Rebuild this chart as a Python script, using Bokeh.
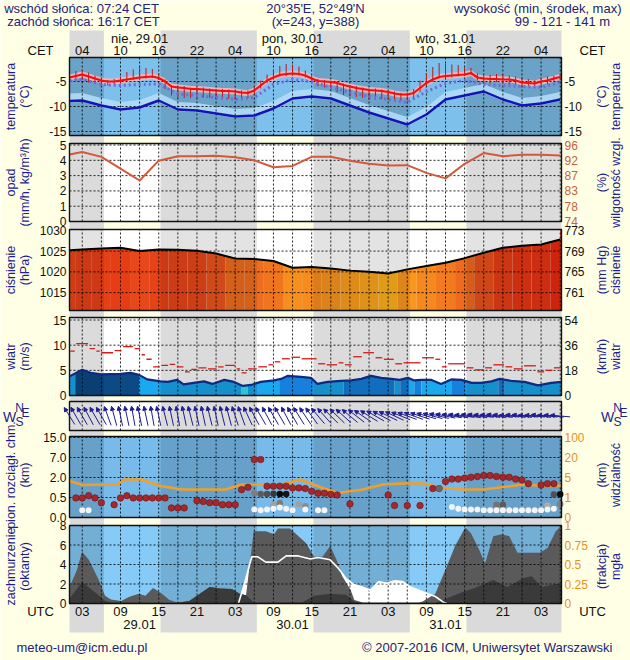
import numpy as np
from bokeh.plotting import figure
from bokeh.models import Range1d, ColumnDataSource, Arrow, NormalHead
from bokeh.core.properties import value
from bokeh.embed import file_html
from bokeh.resources import INLINE

# ------------------------------------------------------------------ data
header_left = ["wschód słońca: 07:24 CET", "zachód słońca: 16:17 CET"]
header_mid = ["20°35'E, 52°49'N", "(x=243, y=388)"]
header_right = ["wysokość (min, środek, max)", "99 - 121 - 141 m"]
sunrise_cet = "07:24"
sunset_cet = "16:17"
day_names = ["nie, 29.01", "pon, 30.01", "wto, 31.01"]
day_dates = ["29.01", "30.01", "31.01"]
day_centers = [12, 36, 60]                # UTC hours from 29.01 00 UTC
label_hours = [3, 9, 15, 21, 27, 33, 39, 45, 51, 57, 63, 69, 75]
cet_labels = ["04", "10", "16", "22", "04", "10", "16", "22", "04", "10", "16", "22", "04"]
utc_labels = ["03", "09", "15", "21", "03", "09", "15", "21", "03", "09", "15", "21", "03"]
grid_hours = [3, 6, 9, 12, 15, 18, 21, 24, 27, 30, 33, 36, 39, 42, 45, 48, 51, 54,
              57, 60, 63, 66, 69, 72, 75, 78]
footer_left = "meteo-um@icm.edu.pl"
footer_right = "© 2007-2016 ICM, Uniwersytet Warszawski"
left_titles = ["temperatura", "opad", "ciśnienie", "wiatr", "pion. rozciągł. chm.", "zachmurzenie"]
left_units = ["(°C)", "(mm/h, kg/m³/h)", "(hPa)", "(m/s)", "(km)", "(oktanty)"]
right_titles = ["temperatura", "wilgotność wzgl.", "ciśnienie", "wiatr", "widzialność", "mgła"]
right_units = ["(°C)", "(%)", "(mm Hg)", "(km/h)", "(km)", "(frakcja)"]

X_START, X_END = 1.0, 78.2

# hourly temperature (°C) and spread bars
hours = list(range(1, 79))
t2m = [-4.2, -3.9, -3.6, -4.0, -4.4, -4.8, -5.0, -5.0, -4.8, -4.6,
       -4.4, -4.2, -4.1, -4.0, -4.3, -5.0, -6.0, -6.2, -6.3, -6.5,
       -6.5, -6.6, -6.7, -6.8, -6.9, -6.9, -7.0, -7.2, -7.3, -6.8,
       -5.8, -4.8, -4.2, -3.7, -3.5, -3.4, -3.5, -3.8, -4.4, -4.9,
       -5.0, -5.1, -5.3, -5.7, -6.0, -6.3, -6.5, -6.7, -6.8, -6.9,
       -7.1, -7.4, -7.6, -7.6, -7.3, -6.3, -5.3, -4.6, -4.1, -3.9,
       -3.8, -3.7, -3.6, -3.3, -4.2, -4.4, -4.5, -4.5, -4.6, -4.6,
       -4.8, -5.2, -5.3, -5.4, -5.0, -4.8, -4.4, -4.1]
t_up = [1.0, 1.0, 0.8, 0.8, 0.6, 0.3, 0.3, 0.5, 0.8, 1.5, 1.8, 2.0, 1.8, 1.5, 1.0,
        0.4, 0.3, 0.3, 0.4, 0.3, 0.3, 0.4, 0.3, 0.3, 0.4, 0.3, 0.3, 0.4,
        0.5, 0.8, 1.0, 1.2, 1.5, 1.8, 2.0, 1.8, 1.5, 1.0, 0.6,
        0.4, 0.3, 0.3, 0.4, 0.3, 0.3, 0.4, 0.3, 0.3, 0.4, 0.3, 0.3, 0.4, 0.3, 0.4,
        0.8, 1.5, 2.0, 2.5, 2.8, 2.5, 2.2, 2.0, 1.5, 1.0, 0.8,
        0.6, 0.8, 1.0, 1.0, 0.8, 0.8, 1.0, 0.8, 0.6, 0.6, 0.8, 0.6, 0.5]
t_dn = [0.8, 1.0, 1.0, 1.2, 1.0, 0.8, 0.8, 0.6, 0.5, 0.3, 0.3, 0.4, 0.3, 0.3, 0.4,
        1.5, 1.8, 2.0, 2.0, 1.8, 1.8, 1.6, 1.6, 1.8, 1.6, 1.6, 1.5, 1.2,
        1.0, 0.8, 0.6, 0.5, 0.3, 0.3, 0.4, 0.3, 0.3, 0.4, 0.5,
        1.0, 1.2, 1.5, 1.8, 2.0, 2.0, 1.8, 1.8, 2.0, 1.8, 1.6, 1.6, 1.5, 1.4, 1.2,
        1.0, 0.8, 0.6, 0.5, 0.3, 0.3, 0.4, 0.3, 0.3, 0.4, 0.6,
        0.8, 0.8, 0.6, 0.8, 1.0, 0.8, 0.8, 0.6, 0.6, 0.8, 0.8, 0.6, 0.6]

# 3-hourly series
h3 = [1, 3, 6, 9, 12, 15, 18, 21, 24, 27, 30, 33, 36, 39, 42, 45, 48, 51, 54, 57,
      60, 63, 66, 69, 72, 75, 78]
dew_point = [-8.9, -8.8, -9.8, -10.6, -10.2, -8.8, -10.6, -10.8, -11.4, -12.0, -11.8,
             -10.4, -8.4, -8.0, -8.4, -9.8, -11.2, -12.4, -13.6, -11.6, -8.6, -7.8,
             -7.0, -8.6, -9.8, -9.4, -8.6]
t_felt = [-4.8, -4.6, -5.6, -5.8, -5.6, -5.5, -7.5, -7.8, -8.2, -8.6, -8.2, -5.6, -4.6,
          -5.0, -6.2, -7.2, -8.0, -8.6, -9.2, -7.0, -5.4, -4.8, -5.6, -5.8, -6.0, -6.2, -5.2]
humidity = [93.3, 94.0, 92.6, 89.2, 85.8, 91.5, 92.8, 92.8, 92.9, 92.5, 91.6, 89.6, 90.0,
            92.6, 92.6, 91.5, 90.6, 90.1, 90.2, 88.0, 86.4, 90.6, 93.7, 92.8, 93.2, 93.2, 93.0]
pressure = [1025.2, 1025.4, 1025.6, 1025.8, 1025.0, 1025.4, 1025.3, 1025.1, 1024.4,
            1023.2, 1023.1, 1022.6, 1021.0, 1021.2, 1020.8, 1020.3, 1020.0, 1019.6,
            1020.6, 1021.4, 1022.2, 1023.3, 1024.6, 1025.8, 1026.3, 1026.6, 1027.8]
precip_ticks = [0, 1, 2, 3, 4, 5]
rh_tick_labels = ["74", "78", "83", "87", "92", "96"]
temp_ticks = [-15, -10, -5]
pres_ticks = [1015, 1020, 1025, 1030]
wind_ticks = [0, 5, 10, 15]
cc_ticks = [0, 2, 4, 6, 8]

# wind speed (m/s)
wind_h = [1.0, 3.0, 4.3, 5.9, 9.0, 10.6, 11.9, 13.2, 15.3, 16.4, 17.9, 18.9, 20.5, 22.1,
          23.4, 25.3, 26.8, 28.2, 29.5, 31.0, 33.1, 34.2, 35.2, 37.3, 38.9, 39.9, 41.5,
          43.6, 45.2, 46.8, 48.3, 49.9, 51.5, 52.8, 54.1, 55.1, 56.2, 57.8, 59.3, 60.9,
          62.5, 64.1, 65.6, 67.2, 68.5, 70.3, 72.4, 74.5, 76.6, 78.2]
wind_ms = [3.8, 5.1, 4.5, 4.2, 4.3, 4.5, 4.1, 3.2, 2.8, 2.7, 3.1, 2.2, 2.5, 2.8, 2.3,
           3.1, 2.7, 1.9, 2.1, 2.7, 3.0, 3.3, 3.9, 3.7, 3.5, 2.3, 2.7, 2.9, 3.0, 3.3,
           3.9, 3.5, 3.3, 3.1, 3.5, 3.0, 3.1, 3.1, 2.3, 3.2, 3.1, 2.5, 2.5, 2.8, 3.3,
           2.9, 2.7, 2.0, 2.5, 2.7]
wseg_start = [1.0, 1.9, 12.0, 28.0, 29.0, 33.9, 39.2, 44.0, 52.0, 52.9, 54.3, 55.1,
              56.2, 60.9, 63.2, 68.3, 69.3]
wseg_end = [1.9, 12.0, 28.0, 29.0, 33.9, 39.2, 44.0, 52.0, 52.9, 54.3, 55.1, 56.2,
            60.9, 63.2, 68.3, 69.3, 78.2]
wseg_class = ["light", "dark", "light", "cyan", "light", "medium", "light", "medium",
              "light", "medium", "light", "medium", "light", "medium", "light", "medium",
              "light"]
gust_start = [1.0, 1.94, 4.04, 5.09, 5.87, 7.97, 9.28, 11.1, 12.2, 12.95, 14.0, 15.3,
              16.6, 17.7, 19.0, 20.0, 21.1, 22.6, 24.2, 25.3, 27.1, 27.9, 28.9, 30.5,
              32.1, 33.1, 34.2, 35.7, 37.3, 39.9, 41.25, 43.1, 44.1, 45.4, 46.97, 48.9,
              50.2, 52.0, 53.3, 56.2, 58.3, 59.3, 60.3, 63.2, 64.5, 66.1, 67.4, 69.3,
              70.6, 72.2, 74.3, 75.6, 76.9]
gust_ms = [8.8, 10.3, 9.3, 8.8, 8.5, 8.9, 9.7, 9.3, 8.1, 7.2, 5.7, 6.0, 6.2, 5.7, 4.7,
           5.2, 5.5, 5.3, 5.7, 6.0, 5.3, 4.5, 5.3, 5.7, 6.1, 6.7, 7.3, 7.6, 7.3, 6.3,
           6.1, 6.5, 6.1, 7.7, 8.5, 7.5, 7.2, 6.3, 6.5, 7.5, 7.2, 5.7, 6.3, 5.5, 5.1,
           5.5, 6.1, 5.7, 5.3, 5.9, 4.7, 5.0, 5.5]

# hourly wind direction (deg, meteorological "from")
wind_dir = [148, 150, 150, 152, 150, 150,
            160, 165, 168, 168, 170, 168, 168, 170, 168, 166, 168, 170, 168, 166, 168,
            168, 166, 168, 166, 165, 162, 160,
            155, 152, 150, 152, 150, 150, 152, 150, 148, 146, 144, 140,
            138, 135, 134, 132, 130, 128,
            124, 122, 120, 118, 116, 115,
            112, 110, 110, 108, 106, 105,
            104, 102, 100, 100, 98, 100, 100, 98, 98, 100, 98, 96, 98, 98, 96, 96, 98,
            96, 96, 95]

# cloud vertical extent (km) and visibility (km)
hgt_ticks_km = [0.0, 0.5, 2.0, 7.0, 15.0]
hgt_tick_labels = ["0.0", "0.5", "2.0", "7.0", "15.0"]
vis_ticks_km = [0, 1, 5, 20, 100]
red_h = [2, 3, 4, 5, 6, 8, 9, 10, 11, 12, 13, 14, 15, 16, 17, 18, 19, 21, 22, 23, 24,
         25, 26, 27, 28, 29, 30, 31, 32, 33, 34, 35, 36, 37, 38, 39, 40, 41, 42, 43,
         45, 51, 52, 54, 56, 58, 59, 60, 61, 62, 63, 64, 65, 66, 67, 68, 69, 70, 71,
         72, 73, 75, 76, 77]
red_km = [0.49, 0.49, 0.64, 0.49, 0.37, 0.32, 0.49, 0.64, 0.49, 0.49, 0.49, 0.49, 0.49,
          0.49, 0.24, 0.24, 0.24, 0.42, 0.40, 0.37, 0.37, 0.32, 0.32, 0.32, 1.09, 1.27,
          6.48, 6.48, 1.35, 1.35, 1.35, 1.35, 1.22, 1.22, 1.17, 0.96, 0.82, 0.82, 0.74,
          0.69, 0.34, 0.69, 0.30, 0.30, 0.30, 1.17, 1.17, 1.70, 1.88, 1.88, 1.96, 2.06,
          2.24, 2.5, 2.5, 2.24, 2.06, 2.06, 1.88, 1.81, 1.54, 1.43, 1.54, 1.54]
white_h = [3, 4, 30, 31, 32, 33, 34, 35, 36, 38, 40, 41, 61, 62, 63, 64, 65, 66, 67, 68,
           69, 70, 71, 72, 73, 74, 75, 76, 77]
white_km = [0.18, 0.18, 0.20, 0.18, 0.20, 0.22, 0.25, 0.22, 0.18, 0.20, 0.18, 0.18,
            0.26, 0.22, 0.20, 0.20, 0.20, 0.18, 0.18, 0.18, 0.18, 0.18, 0.18, 0.18,
            0.18, 0.18, 0.18, 0.20, 0.22]
gray_h = [30, 31, 32, 33, 34, 35, 33, 34, 37, 38, 59, 68, 69, 76, 77, 78, 78]
gray_km = [0.82, 0.76, 0.76, 0.78, 0.76, 0.76, 0.32, 0.36, 0.34, 0.28, 1.17, 0.32, 0.32,
           0.30, 0.72, 0.74, 0.34]
gray_frac = [0.45, 0.6, 0.65, 0.75, 0.95, 0.9, 0.3, 0.45, 0.3, 0.4, 0.55, 0.5, 0.6,
             0.25, 0.65, 0.95, 0.45]
vis_h = [1.0, 3.1, 6.6, 8.5, 9.7, 12.3, 15.4, 18.6, 25.5, 28.0, 34.3, 37.2, 40.7, 43.2,
         47.0, 50.2, 53.3, 56.4, 59.6, 62.8, 65.9, 67.8, 72.2, 75.4, 78.2]
vis_km = [4.3, 3.5, 3.6, 3.6, 4.6, 4.6, 3.3, 2.6, 2.6, 3.6, 3.6, 4.6, 2.9, 1.9, 2.6, 3.6,
          3.8, 3.8, 2.9, 2.6, 2.6, 2.9, 3.6, 3.3, 3.4]

# cloud cover (octants) and fog fraction
cc_h = [1.0, 2.15, 2.97, 4.04, 5.6, 6.57, 7.5, 9.1, 10.4, 11.9, 12.9, 14.1, 15.1, 16.7,
        17.9, 19.8, 21.1, 23.0, 24.6, 26.5, 27.7, 28.7, 29.9, 31.8, 33.1, 33.7, 35.6,
        38.1, 39.4, 40.7, 41.9, 42.9, 43.8, 45.1, 45.7, 47.0, 55.8, 56.4, 58.4, 60.2,
        61.5, 63.1, 64.0, 65.3, 66.2, 67.5, 68.8, 70.0, 71.3, 72.9, 74.8, 76.0, 77.3, 78.2]
cc_total = [1.7, 3.4, 5.3, 4.5, 2.4, 0.8, 0.4, 0.25, 0.7, 1.0, 0.8, 1.6, 1.2, 0.35, 0.1,
            0.25, 0.85, 1.7, 1.55, 1.5, 1.0, 0.85, 7.4, 7.4, 7.1, 7.7, 7.7, 6.2, 4.8,
            4.8, 5.9, 4.5, 2.8, 1.4, 0.35, 0.1, 0.1, 0.2, 1.0, 3.8, 5.9, 7.8, 7.2, 5.5,
            4.1, 6.9, 7.1, 6.9, 5.2, 5.2, 5.2, 5.7, 7.4, 8.0]
low_h = [1.0, 2.97, 5.3, 6.6, 7.5, 17.9, 19.8, 21.1, 23.0, 24.6, 26.5, 27.7, 28.7, 29.9,
         37.5, 39.4, 41.9, 44.4, 45.7, 47.0, 58.4, 59.0, 62.8, 64.6, 67.5, 69.7, 72.2,
         73.5, 75.1, 77.3, 78.2]
low_cc = [0.5, 2.2, 1.0, 0.25, 0.1, 0.05, 0.25, 0.85, 1.7, 1.55, 1.5, 1.0, 0.85, 0.1, 0.1,
          0.8, 1.0, 0.9, 0.2, 0.05, 0.05, 0.2, 1.2, 1.6, 2.4, 1.7, 2.6, 2.8, 1.7, 2.0, 2.0]
fog_h = [1.0, 27.5, 28.3, 29.6, 30.5, 31.8, 33.7, 35.0, 36.9, 38.8, 40.0, 41.9, 43.2,
         44.4, 45.7, 47.0, 48.2, 49.5, 50.8, 52.0, 53.3, 54.5, 56.4, 58.4, 59.6, 60.2, 78.2]
fog = [0, 0, 0.21, 0.6, 0.6, 0.53, 0.53, 0.61, 0.61, 0.57, 0.59, 0.56, 0.45, 0.32, 0.24,
       0.21, 0.17, 0.28, 0.26, 0.29, 0.28, 0.21, 0.15, 0.09, 0.02, 0, 0]
fog_ticks = [0, 0.25, 0.5, 0.75, 1.0]
fog_tick_labels = ["0", "0.25", "0.5", "0.75", "1"]

# ------------------------------------------------------------------ page geometry / style
FONT = "Liberation Sans"
NAVY = "#1E1E90"
TXT = "#22227A"
INK = "#111111"
CREAM = "#FFFFE6"
GAPNIGHT = "#DADADA"
ORANGE = "#E8901C"
W_TOTAL, H_TOTAL = 630, 660
FRAME_L, FRAME_R = 69, 561
BAND_TOP, BAND_BOT = 30, 632
# panel: (top y on page, height)
GEOM = {"temp": (57, 78), "precip": (143, 78), "pres": (229, 81), "wind": (317, 78),
        "dir": (401, 29), "cloud": (436, 81), "cc": (525, 78)}
WCOL = {"light": "#1AA8EE", "medium": "#1680DC", "dark": "#0C4A86", "cyan": "#35E2FF"}

PXH = (FRAME_R - FRAME_L) / (X_END - X_START)


def hx(px):
    """page x pixel -> hour on the shared time axis."""
    return X_START + (px - FRAME_L) / PXH


def hm(s):
    a, b = s.split(":")
    return int(a) + int(b) / 60.0


rise = hm(sunrise_cet) - 1.0   # CET -> UTC
sset = hm(sunset_cet) - 1.0
night_l = [X_START, sset, sset + 24, sset + 48]
night_r = [rise, rise + 24, rise + 48, X_END]

p = figure(frame_width=W_TOTAL, frame_height=H_TOTAL, x_range=Range1d(hx(0), hx(W_TOTAL)),
           y_range=Range1d(H_TOTAL, 0), x_axis_type=None, y_axis_type=None,
           toolbar_location=None, output_backend="svg", title=None, min_border=0,
           background_fill_color=CREAM, border_fill_color=CREAM, outline_line_color=None)

ranges = {}


def add_range(name, key, lo, hi):
    """a y range for one strip, so that lo..hi fills that strip's band on the page."""
    top, h = GEOM[key]
    k = (hi - lo) / h
    ranges[name] = Range1d(lo - (H_TOTAL - top - h) * k, hi + top * k)


PANEL = {"temp": (-15.8, -0.2), "precip": (0.0, 5.1), "pres": (1010.7, 1030.2),
         "wind": (0.0, 15.5), "dir": (0.0, 1.0), "cloud": (0.0, 4.05), "cc": (0.0, 8.0)}
for k_, (lo_, hi_) in PANEL.items():
    add_range(k_, k_, lo_, hi_)
RH_PER_UNIT = (96 - 74) / 5.0
add_range("rh", "precip", 74.0, 74.0 + RH_PER_UNIT * PANEL["precip"][1])
add_range("fog", "cc", 0.0, 1.0)
p.extra_y_ranges = ranges

TK = dict(text_font=value(FONT), text_baseline="middle")

# night bands behind everything (visible in header row, gaps and footer row)
p.quad(left=night_l, right=night_r, bottom=BAND_BOT, top=BAND_TOP, fill_color=GAPNIGHT,
       line_color=None)


def base(name, bg, alpha=0.14):
    lo, hi = PANEL[name]
    p.quad(left=[X_START], right=[X_END], bottom=[lo], top=[hi], fill_color=bg,
           line_color=None, y_range_name=name)
    return lo, hi


def night(name, alpha=0.14):
    lo, hi = PANEL[name]
    p.quad(left=night_l, right=night_r, bottom=lo, top=hi, fill_color="black",
           fill_alpha=alpha, line_color=None, y_range_name=name)


def grid(name, yticks):
    lo, hi = PANEL[name]
    p.segment(x0=grid_hours, y0=lo, x1=grid_hours, y1=hi, line_color="black",
              line_dash="2 2", line_width=1, line_alpha=0.85, y_range_name=name)
    if yticks:
        p.segment(x0=X_START, y0=yticks, x1=X_END, y1=yticks, line_color="black",
                  line_dash="2 2", line_width=1, line_alpha=0.85, y_range_name=name)


def border(name):
    lo, hi = PANEL[name]
    p.quad(left=[X_START], right=[X_END], bottom=[lo], top=[hi], fill_color=None,
           line_color=INK, line_width=1.4, y_range_name=name)


def tick_labels(name, vals, labels, side, color=INK):
    x = hx(FRAME_L - 3) if side == "left" else hx(FRAME_R + 3)
    p.text(x=x, y=vals, text=labels, y_range_name=name,
           text_align="right" if side == "left" else "left",
           text_font_size="12px", text_color=color, **TK)


# ------------------------------------------------------------------ temperature
base("temp", "#7EC0EC")
night("temp", 0.15)
T = np.array(t2m)
D = np.array(dew_point)
p.varea(x=h3, y1=D - 0.3, y2=D + 1.5, fill_color="#B2DCF6", fill_alpha=0.9, y_range_name="temp")
p.varea(x=hours, y1=T - 0.6, y2=T + 0.6, fill_color="#F5B3B8", fill_alpha=0.95,
        y_range_name="temp")
grid("temp", [-5, -10, -15])
p.segment(x0=hours, y0=T - np.array(t_dn), x1=hours, y1=T + np.array(t_up),
          line_color="#B81A1A", line_width=1, y_range_name="temp")
p.line(h3, t_felt, line_color="#7468E0", line_width=3, line_dash="2 3", y_range_name="temp")
p.line(h3, dew_point, line_color="#1414B4", line_width=2.4, y_range_name="temp")
p.line(hours, t2m, line_color="#EE1111", line_width=2.2, y_range_name="temp")
border("temp")
tick_labels("temp", temp_ticks, [str(v) for v in temp_ticks], "left")
tick_labels("temp", temp_ticks, [str(v) for v in temp_ticks], "right")

# ------------------------------------------------------------------ precipitation / humidity
base("precip", "white")
night("precip")
grid("precip", [1, 2, 3, 4, 5])
p.line(h3, humidity, y_range_name="rh", line_color="#D4583A", line_width=2)
border("precip")
tick_labels("precip", precip_ticks, [str(v) for v in precip_ticks], "left")
tick_labels("rh", [74 + RH_PER_UNIT * k for k in precip_ticks], rh_tick_labels, "right",
            "#C8603A")

# ------------------------------------------------------------------ pressure
lo, hi = base("pres", "white")
stops_p = [1019.5, 1020.5, 1022.0, 1023.5, 1025.0, 1027.5]
stops_c = [(253, 178, 28), (250, 152, 30), (243, 126, 32), (238, 104, 30), (230, 72, 26),
           (232, 40, 14)]


def pcolor(v):
    r = np.interp(v, stops_p, [c[0] for c in stops_c])
    g = np.interp(v, stops_p, [c[1] for c in stops_c])
    b = np.interp(v, stops_p, [c[2] for c in stops_c])
    return "#%02x%02x%02x" % (int(r), int(g), int(b))


hh = np.array(h3, dtype=float)
edges = np.concatenate([[X_START], (hh[:-1] + hh[1:]) / 2.0, [X_END]])
p.quad(left=edges[:-1], right=edges[1:], bottom=lo, top=hi,
       fill_color=[pcolor(v) for v in pressure], line_color=None, y_range_name="pres")
p.varea(x=h3, y1=pressure, y2=hi, fill_color="white", y_range_name="pres")
night("pres", 0.11)
grid("pres", [1015, 1020, 1025])
p.line(h3, pressure, line_color="black", line_width=2, y_range_name="pres")
border("pres")
tick_labels("pres", pres_ticks, [str(v) for v in pres_ticks], "left")
tick_labels("pres", pres_ticks, [str(int(round(v * 0.750062))) for v in pres_ticks], "right")

# ------------------------------------------------------------------ wind speed
lo, hi = base("wind", "white")
p.quad(left=wseg_start, right=wseg_end, bottom=lo, top=hi,
       fill_color=[WCOL[c] for c in wseg_class], line_color=None, y_range_name="wind")
p.varea(x=wind_h, y1=wind_ms, y2=hi, fill_color="white", y_range_name="wind")
night("wind")
grid("wind", [5, 10, 15])
gs = np.array(gust_start)
ge = np.append(gs[1:], X_END)
p.segment(x0=gs + 0.12, y0=gust_ms, x1=ge - 0.12, y1=gust_ms, line_color="#D41A1A",
          line_width=1.3, y_range_name="wind")
p.line(wind_h, wind_ms, line_color="#0E2A80", line_width=2.2, y_range_name="wind")
border("wind")
tick_labels("wind", wind_ticks, [str(v) for v in wind_ticks], "left")
tick_labels("wind", wind_ticks, [str(int(round(v * 3.6))) for v in wind_ticks], "right")

# ------------------------------------------------------------------ wind direction
base("dir", "white")
night("dir")
grid("dir", None)
go = np.radians(np.array(wind_dir) + 180.0)
L = 20.0
dxh = L * np.sin(go) / PXH
dyu = L * np.cos(go) / GEOM["dir"][1]
hxs = np.array(hours, dtype=float)
src = ColumnDataSource(dict(x0=hxs - dxh / 2, x1=hxs + dxh / 2, y0=0.5 - dyu / 2,
                            y1=0.5 + dyu / 2))
p.add_layout(Arrow(end=NormalHead(size=4, fill_color=NAVY, line_color=NAVY, line_width=1),
                   x_start="x0", y_start="y0", x_end="x1", y_end="y1", source=src,
                   line_color=NAVY, line_width=1, y_range_name="dir"))
border("dir")

# ------------------------------------------------------------------ cloud extent / visibility
base("cloud", "#78BBEA")
night("cloud")
grid("cloud", [1, 2, 3, 4])
idx = [0, 1, 2, 3, 4]


def hidx(km):
    return np.interp(km, hgt_ticks_km, idx)


p.line(vis_h, np.interp(vis_km, vis_ticks_km, idx), line_color="#F0A028", line_width=2.5,
       y_range_name="cloud")
p.scatter(red_h, hidx(red_km), size=6.5, fill_color="#A3282C", line_color="#6E1414",
          line_width=0.6, y_range_name="cloud")
gcols = ["#%02x%02x%02x" % ((int(230 * (1 - f)),) * 3) for f in gray_frac]
p.scatter(gray_h, hidx(gray_km), size=6.5, fill_color=gcols, line_color=None,
          y_range_name="cloud")
p.scatter(white_h, hidx(white_km), size=6, fill_color="#F4F4F4", line_color=None,
          y_range_name="cloud")
border("cloud")
tick_labels("cloud", idx, hgt_tick_labels, "left")
tick_labels("cloud", idx, [str(v) for v in vis_ticks_km], "right", ORANGE)

# ------------------------------------------------------------------ cloud cover / fog
base("cc", "#86CBF7")
night("cc")
p.varea(x=fog_h, y1=0, y2=fog, fill_color="white", y_range_name="fog")
p.varea(x=cc_h, y1=0, y2=cc_total, fill_color="#5A5A5A", y_range_name="cc")
p.varea(x=low_h, y1=0, y2=low_cc, fill_color="#3A3A3A", y_range_name="cc")
grid("cc", [2, 4, 6])
p.line(fog_h[1:-1], fog[1:-1], line_color="white", line_width=1.6, y_range_name="fog")
border("cc")
tick_labels("cc", cc_ticks, [str(v) for v in cc_ticks], "left")
tick_labels("fog", fog_ticks, fog_tick_labels, "right", ORANGE)

# ------------------------------------------------------------------ header row
p.text(x=label_hours, y=50, text=cet_labels, text_align="center", text_font_size="13px",
       text_color=INK, **TK)
p.text(x=day_centers, y=37.5, text=day_names, text_align="center", text_font_size="13px",
       text_color=INK, **TK)
p.text(x=[hx(40), hx(592)], y=50, text=["CET", "CET"], text_align="center",
       text_font_size="13px", text_color=INK, **TK)
p.text(x=[hx(81), hx(83)], y=[7.5, 21], text=header_left, text_align="center",
       text_font_size="13px", text_color=TXT, **TK)
p.text(x=[hx(315), hx(315)], y=[7.5, 21], text=header_mid, text_align="center",
       text_font_size="13px", text_color=TXT, **TK)
p.text(x=[hx(621)], y=[7.5], text=[header_right[0]], text_align="right",
       text_font_size="13px", text_color=TXT, **TK)
p.text(x=[hx(562)], y=[21], text=[header_right[1]], text_align="center",
       text_font_size="13px", text_color=TXT, **TK)

# ------------------------------------------------------------------ side titles
keys = ["temp", "precip", "pres", "wind", "cloud", "cc"]
centers = [GEOM[k][0] + GEOM[k][1] / 2.0 for k in keys]
centers[4] -= 2
centers[5] += 2
p.text(x=hx(10), y=centers, text=left_titles, angle=np.pi / 2, text_align="center",
       text_font_size="12.5px", text_color=NAVY, **TK)
p.text(x=hx(24), y=centers, text=left_units, angle=np.pi / 2, text_align="center",
       text_font_size="12.5px", text_color=NAVY, **TK)
p.text(x=hx(601), y=centers, text=right_units, angle=np.pi / 2, text_align="center",
       text_font_size="12.5px", text_color=NAVY, **TK)
p.text(x=hx(615), y=centers, text=right_titles, angle=np.pi / 2, text_align="center",
       text_font_size="12.5px", text_color=NAVY, **TK)
cy = GEOM["dir"][0] + GEOM["dir"][1] / 2.0
for x0 in (0, W_TOTAL - 32):
    p.text(x=[hx(x0 + 9)], y=[cy + 1], text=["W"], text_align="center",
           text_font_size="14px", text_color=NAVY, **TK)
    p.text(x=[hx(x0 + 19), hx(x0 + 19), hx(x0 + 25)], y=[cy - 8, cy + 6, cy - 3],
           text=["N", "S", "E"], text_align="center", text_font_size="12px",
           text_color=NAVY, **TK)

# ------------------------------------------------------------------ footer row
p.text(x=label_hours, y=611, text=utc_labels, text_align="center", text_font_size="13px",
       text_color=INK, **TK)
p.text(x=day_centers, y=624, text=day_dates, text_align="center", text_font_size="13px",
       text_color=INK, **TK)
p.text(x=[hx(40), hx(592)], y=611, text=["UTC", "UTC"], text_align="center",
       text_font_size="13px", text_color=INK, **TK)
p.text(x=[hx(16)], y=[647], text=[footer_left], text_align="left", text_font_size="13px",
       text_color=TXT, **TK)
p.text(x=[hx(612)], y=[647], text=[footer_right], text_align="right", text_font_size="13px",
       text_color=TXT, **TK)

open("out.html", "w").write(file_html(p, INLINE, title="meteogram"))
